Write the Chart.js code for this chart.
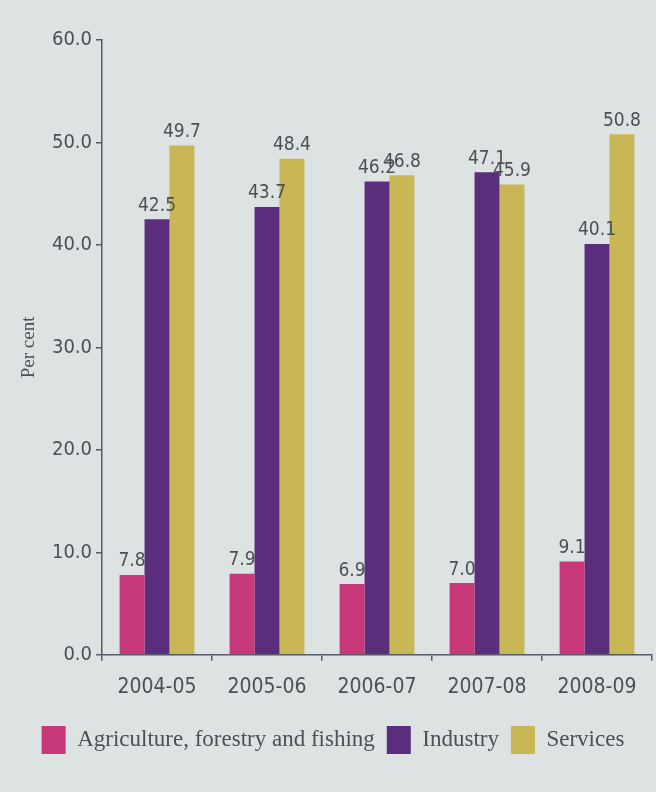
<!DOCTYPE html>
<html>
<head>
<meta charset="utf-8">
<script src="https://cdn.jsdelivr.net/npm/chart.js@4/dist/chart.umd.min.js"></script>
<style>
html,body{margin:0;padding:0;background:#dde2e3;}
#wrap{width:656px;height:792px;position:relative;}
</style>
</head>
<body>
<div id="wrap"><canvas id="c" width="656" height="792"></canvas></div>
<script>
const categories = ["2004-05","2005-06","2006-07","2007-08","2008-09"];
const agriculture = [7.8, 7.9, 6.9, 7.0, 9.1];
const industry = [42.5, 43.7, 46.2, 47.1, 40.1];
const services = [49.7, 48.4, 46.8, 45.9, 50.8];
const seriesNames = ["Agriculture, forestry and fishing","Industry","Services"];
const yTicks = [0,10,20,30,40,50,60];

const textColor = '#4c4f55';
const narrow = '"DejaVu Sans Condensed","Liberation Sans Narrow",sans-serif';
const serif = '"Liberation Serif","DejaVu Serif",serif';

const valueLabels = {
  id:'valueLabels',
  afterDatasetsDraw(chart){
    const ctx = chart.ctx;
    ctx.save();
    ctx.font = '19px ' + narrow;
    ctx.fillStyle = textColor;
    ctx.textAlign = 'center';
    ctx.textBaseline = 'bottom';
    chart.data.datasets.forEach((ds,i)=>{
      const meta = chart.getDatasetMeta(i);
      meta.data.forEach((bar,j)=>{
        ctx.fillText(ds.data[j].toFixed(1), bar.x, bar.y - 4);
      });
    });
    ctx.restore();
  }
};

new Chart(document.getElementById('c'), {
  type:'bar',
  data:{
    labels: categories,
    datasets:[
      {label: seriesNames[0], data: agriculture, backgroundColor:'#c63879'},
      {label: seriesNames[1], data: industry, backgroundColor:'#5a2e7d'},
      {label: seriesNames[2], data: services, backgroundColor:'#c9b655'}
    ]
  },
  options:{
    responsive:false,
    animation:false,
    layout:{padding:{top:40,right:4,left:14,bottom:28}},
    datasets:{bar:{categoryPercentage:0.68, barPercentage:1.0}},
    plugins:{
      legend:{
        position:'bottom',
        labels:{
          color:textColor,
          font:{family:serif, size:23},
          boxWidth:24, boxHeight:28, padding:12
        }
      },
      tooltip:{enabled:false}
    },
    scales:{
      y:{
        min:0, max:60,
        afterBuildTicks(scale){ scale.ticks = yTicks.map(v=>({value:v})); },
        afterFit(scale){ scale.width = 88; },
        ticks:{
          color:textColor, padding:4,
          font:{family:narrow, size:20},
          callback:(v)=>Number(v).toFixed(1)
        },
        grid:{drawOnChartArea:false, drawTicks:true, tickLength:6, color:'#555a66', lineWidth:1.5},
        border:{color:'#555a66', width:1.5},
        title:{display:true, text:'Per cent', color:textColor, font:{family:serif, size:19}, padding:{top:4,bottom:4}}
      },
      x:{
        ticks:{color:textColor, font:{family:narrow, size:21}, padding:14},
        grid:{drawOnChartArea:false, drawTicks:true, tickLength:6, color:'#555a66', lineWidth:1.5},
        border:{color:'#555a66', width:1.5}
      }
    }
  },
  plugins:[valueLabels]
});
</script>
</body>
</html>
